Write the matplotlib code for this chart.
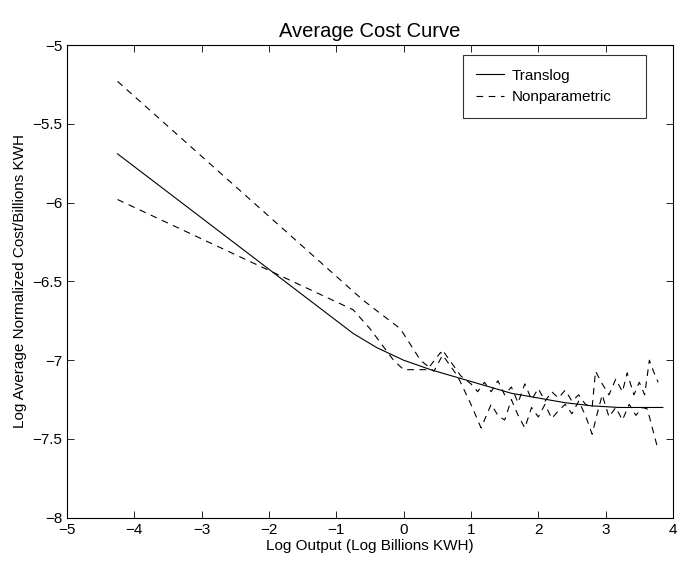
import numpy as np
import matplotlib.pyplot as plt
from matplotlib.ticker import FuncFormatter, MultipleLocator

# Translog fit
x_trans = [-4.25, -0.75, -0.4, 0.0, 0.4, 0.8, 1.2, 1.6, 2.0, 2.4, 2.8, 3.2, 3.6, 3.85]
y_trans = [-5.69, -6.83, -6.92, -7.00, -7.06, -7.11, -7.16, -7.21, -7.24, -7.27, -7.29, -7.30, -7.30, -7.30]

# Nonparametric bands (upper / lower)
x_upper = [-4.25, -0.6, -0.05, 0.25, 0.45, 0.6, 0.85, 1.0, 1.1, 1.2, 1.3, 1.4, 1.5, 1.6, 1.7,
           1.8, 1.9, 2.0, 2.1, 2.2, 2.3, 2.4, 2.5, 2.6, 2.7, 2.8, 2.85, 2.95, 3.05, 3.15,
           3.25, 3.32, 3.42, 3.5, 3.58, 3.65, 3.72, 3.78]
y_upper = [-5.23, -6.62, -6.80, -7.00, -7.07, -6.95, -7.10, -7.15, -7.20, -7.14, -7.20, -7.13,
           -7.22, -7.17, -7.27, -7.15, -7.25, -7.18, -7.26, -7.20, -7.24, -7.19, -7.26, -7.22,
           -7.28, -7.30, -7.07, -7.15, -7.22, -7.12, -7.20, -7.08, -7.22, -7.14, -7.22, -7.00,
           -7.08, -7.14]

x_lower = [-4.25, -0.75, -0.5, -0.15, 0.0, 0.35, 0.55, 0.8, 1.0, 1.15, 1.3, 1.4, 1.5, 1.6,
           1.7, 1.8, 1.9, 2.0, 2.1, 2.2, 2.3, 2.4, 2.5, 2.6, 2.7, 2.8, 2.88, 2.95, 3.05, 3.15,
           3.25, 3.35, 3.45, 3.55, 3.62, 3.78]
y_lower = [-5.98, -6.68, -6.80, -7.00, -7.06, -7.06, -6.95, -7.10, -7.28, -7.43, -7.28, -7.35,
           -7.38, -7.25, -7.35, -7.43, -7.30, -7.36, -7.28, -7.37, -7.32, -7.28, -7.34, -7.26,
           -7.35, -7.47, -7.33, -7.22, -7.36, -7.30, -7.38, -7.28, -7.35, -7.30, -7.31, -7.57]

plt.rcParams['font.family'] = ['Liberation Sans', 'DejaVu Sans']

fig = plt.figure(figsize=(6.77, 5.64), dpi=100)
ax = fig.add_axes([0.099, 0.082, 0.895, 0.838])

ax.plot(x_trans, y_trans, color='black', linewidth=0.8, label='Translog')
ax.plot(x_upper, y_upper, color='black', linewidth=0.8, linestyle=(0, (6, 5)), label='Nonparametric')
ax.plot(x_lower, y_lower, color='black', linewidth=0.8, linestyle=(0, (6, 5)))

ax.set_xlim(-5, 4)
ax.set_ylim(-8, -5)
ax.xaxis.set_major_locator(MultipleLocator(1))
ax.yaxis.set_major_locator(MultipleLocator(0.5))
fmt = FuncFormatter(lambda v, p: ('%g' % v).replace('-', '\u2212'))
ax.xaxis.set_major_formatter(fmt)
ax.yaxis.set_major_formatter(fmt)
ax.tick_params(direction='in', top=True, right=True, labelsize=11, length=5, width=0.6)
for s in ax.spines.values():
    s.set_linewidth(0.8)

ax.set_title('Average Cost Curve', fontsize=14.5)
ax.set_xlabel('Log Output (Log Billions KWH)', fontsize=11, labelpad=2)
ax.set_ylabel('Log Average Normalized Cost/Billions KWH', fontsize=11)

leg = ax.legend(loc='upper left', bbox_to_anchor=(0.653, 0.848, 0.302, 0.131), mode='expand',
                fancybox=False, edgecolor='black', fontsize=11, handlelength=1.8,
                handletextpad=0.5, borderpad=0.9, borderaxespad=0.0)
leg.get_frame().set_linewidth(0.8)

fig.savefig('out.png', dpi=100)
